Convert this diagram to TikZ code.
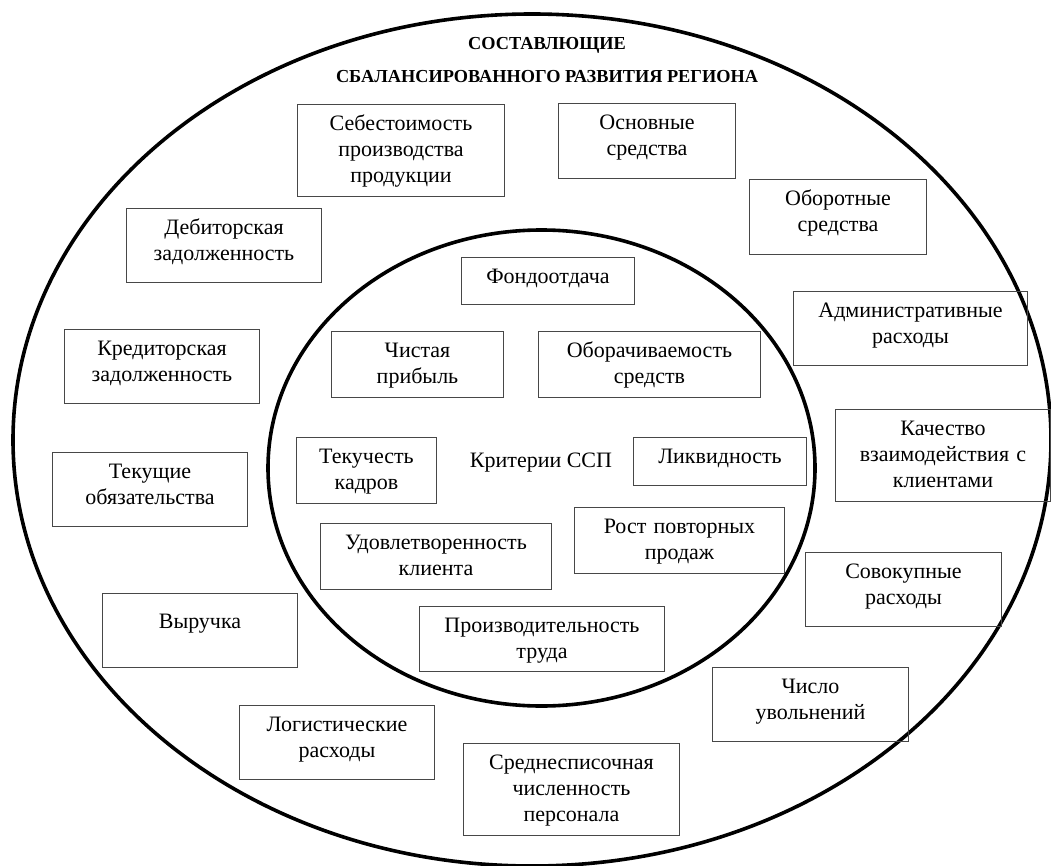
\documentclass[tikz,border=0pt]{standalone}
\usepackage{fontspec}
\setmainfont{Liberation Serif}
\newcommand\mybox[7]{%
  \pgfmathsetmacro\bw{#4-#2-8}%
  \pgfmathsetmacro\bd{#5-#3-#6}%
  \node[bx, text width=\bw pt, text height=#6pt, text depth=\bd pt] (#1) at (#2,#3) {#7};}
\tikzset{
  bx/.style={draw=black!72, line width=1pt, anchor=north west, inner xsep=4pt, inner ysep=0pt,
    align=center, font=\fontsize{22}{26}\selectfont},
  ring/.style={draw=black, line width=3.6pt},
  ttl/.style={font=\fontsize{18.3}{21}\selectfont\bfseries, anchor=base}
}
\begin{document}
\begin{tikzpicture}[x=1pt,y=-1pt]
\useasboundingbox (0,0) rectangle (1051,866);
\fill[white] (0,0) rectangle (1051,866);
% rings
\draw[ring] (532,440) ellipse [x radius=519, y radius=426];
\draw[ring] (541.5,468) ellipse [x radius=273.5, y radius=238];
% title
\node[ttl] (t1) at (547,50) {СОСТАВЛЮЩИЕ};
\node[ttl] (t2) at (547,83) {СБАЛАНСИРОВАННОГО РАЗВИТИЯ РЕГИОНА};
% outer boxes
\mybox{sebes}{297}{104}{504}{196}{26}{Себестоимость\\производства\\продукции}
\mybox{osn}{558}{103}{735}{178}{26}{Основные\\средства}
\mybox{obor}{749}{179}{926}{254}{26}{Оборотные\\средства}
\mybox{debit}{126}{208}{321}{282}{26}{Дебиторская\\задолженность}
\mybox{admin}{793}{291}{1027}{365}{26}{Административные\\расходы}
\mybox{kredit}{64}{329}{259}{403}{26}{Кредиторская\\задолженность}
\mybox{kach}{835}{409}{1050}{501}{26}{Качество\\взаимодействия с\\клиентами}
\mybox{tekob}{52}{452}{247}{526}{26}{Текущие\\обязательства}
\mybox{sovok}{805}{552}{1001}{626}{26}{Совокупные\\расходы}
\mybox{vyr}{102}{593}{297}{667}{35}{Выручка}
\mybox{chislo}{712}{667}{908}{741}{26}{Число\\увольнений}
\mybox{logist}{239}{705}{434}{779}{26}{Логистические\\расходы}
\mybox{sredn}{463}{743}{679}{835}{26}{Среднесписочная\\численность\\персонала}
% inner boxes
\mybox{fond}{461}{257}{634}{304}{26}{Фондоотдача}
\mybox{chist}{331}{331}{503}{397}{26}{Чистая\\прибыль}
\mybox{oborach}{538}{331}{760}{397}{26}{Оборачиваемость\\средств}
\mybox{tekuch}{296}{437}{436}{503}{26}{Текучесть\\кадров}
\mybox{likv}{633}{437}{806}{485}{26}{Ликвидность}
\mybox{rost}{574}{507}{784}{573}{26}{Рост повторных\\продаж}
\mybox{udovl}{320}{523}{551}{589}{26}{Удовлетворенность\\клиента}
\mybox{proizv}{419}{606}{664}{671}{26}{Производительность\\труда}
\node[font=\fontsize{22}{26}\selectfont, anchor=base] (crit) at (541,467) {Критерии ССП};
\end{tikzpicture}
\end{document}
